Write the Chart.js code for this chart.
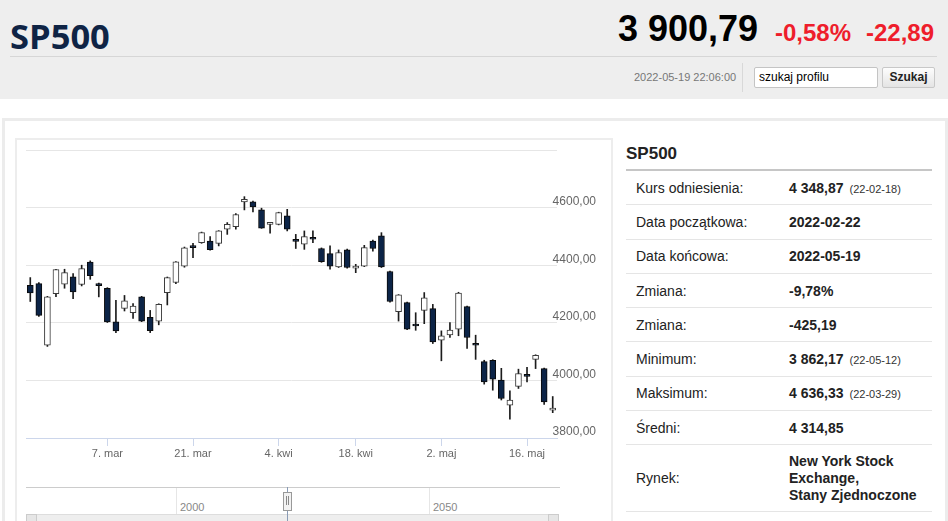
<!DOCTYPE html>
<html lang="pl">
<head>
<meta charset="utf-8">
<title>SP500</title>
<script src="https://cdn.jsdelivr.net/npm/chart.js@4.4.1/dist/chart.umd.min.js"></script>
<style>
  html, body { margin: 0; padding: 0; }
  body { width: 948px; height: 521px; overflow: hidden; position: relative; background: #fff;
         font-family: "Liberation Sans", Arial, sans-serif; color: #222; }
  .abs { position: absolute; white-space: nowrap; line-height: 1; }
  #top { position: absolute; left: 0; top: 0; width: 948px; height: 99px; background: #eeeeee; }
  #panel { position: absolute; left: 2px; top: 118px; width: 940px; height: 420px;
           border-top: 3px solid #ececec; border-left: 3px solid #ececec; border-right: 3px solid #ececec; }
  #chartBox { position: absolute; left: 15px; top: 138px; width: 594px; height: 400px;
              border-top: 2px solid #ededed; border-left: 2px solid #ededed; border-right: 2px solid #ededed; }
  #priceChart { position: absolute; left: 16px; top: 140px; }
  .row { position: absolute; left: 626px; width: 306px; border-bottom: 1px solid #e5e5e5; }
  .row .l { position: absolute; left: 10px; font-size: 14px; color: #222; }
  .row .v { position: absolute; left: 163px; font-size: 14px; font-weight: bold; color: #222; }
  .row .v small { font-size: 11px; font-weight: normal; color: #333; margin-left: 6px; }
</style>
</head>
<body>
<div id="top"></div>
<div class="abs" style="left:10px; top:12px; font: 700 34.5px 'Open Sans', sans-serif; color:#0f2445;">SP500</div>
<div class="abs" style="left:618px; top:11px; font-weight:bold; font-size:36px; color:#000;">3 900,79</div>
<div class="abs" style="left:775px; top:21px; font-weight:bold; font-size:24px; color:#ee1d2b;">-0,58%</div>
<div class="abs" style="left:866px; top:21px; font-weight:bold; font-size:24px; color:#ee1d2b;">-22,89</div>
<div class="abs" style="left:10px; top:56px; width:927px; height:1px; background:#d6d6d6;"></div>
<div class="abs" style="left:634px; top:72px; font-size:11px; color:#777;">2022-05-19 22:06:00</div>
<div class="abs" style="left:742px; top:63px; width:1px; height:29px; background:#d8d8d8;"></div>
<div class="abs" style="left:754px; top:67px; width:118px; height:19px; background:#fff; border:1px solid #c4c4c4; border-radius:2px; padding-left:4px; font-size:12px; line-height:19px; color:#000;">szukaj profilu</div>
<div class="abs" style="left:882px; top:67px; width:51px; height:19px; border:1px solid #c8c8c8; border-radius:2px; background:linear-gradient(#fdfdfd,#e4e4e4); font-size:12px; font-weight:bold; line-height:19px; text-align:center; color:#222;">Szukaj</div>

<div id="panel"></div>
<div id="chartBox"></div>
<canvas id="priceChart" width="594" height="331" style="width:594px; height:331px;"></canvas>

<!-- navigator under the chart -->
<div class="abs" style="left:26px; top:487px; width:534px; height:1px; background:#cccccc;"></div>
<div class="abs" style="left:176px; top:488px; width:1px; height:26px; background:#e6e6e6;"></div>
<div class="abs" style="left:429px; top:488px; width:1px; height:26px; background:#e6e6e6;"></div>
<div class="abs" style="left:180px; top:502px; font-size:11px; color:#888;">2000</div>
<div class="abs" style="left:433px; top:502px; font-size:11px; color:#888;">2050</div>
<div class="abs" style="left:26px; top:514px; width:531px; height:7px; background:#eeeeee; border-top:1px solid #dddddd;"></div>
<div class="abs" style="left:26px; top:514px; width:9px; height:7px; border:1px solid #cccccc; background:#e6e6e6;"></div>
<div class="abs" style="left:548px; top:514px; width:9px; height:7px; border:1px solid #cccccc; background:#e6e6e6;"></div>
<div class="abs" style="left:287px; top:487px; width:1px; height:34px; background:#8a9bb5;"></div>
<div class="abs" style="left:283px; top:492px; width:7px; height:17px; background:#f2f2f2; border:1px solid #999;"></div>
<div class="abs" style="left:286px; top:496px; width:1px; height:9px; background:#888;"></div>
<div class="abs" style="left:288px; top:496px; width:1px; height:9px; background:#888;"></div>

<!-- summary table -->
<div class="abs" style="left:626px; top:145px; font-size:17px; font-weight:bold; color:#222;">SP500</div>
<div class="abs" style="left:626px; top:169px; width:306px; height:2px; background:#c6c6c6;"></div>
<div id="table"></div>

<script>
// SP500 daily candles, 2022-02-22 .. 2022-05-19
const dates = [
    '2022-02-22', '2022-02-23', '2022-02-24', '2022-02-25', '2022-02-28',
    '2022-03-01', '2022-03-02', '2022-03-03', '2022-03-04', '2022-03-07',
    '2022-03-08', '2022-03-09', '2022-03-10', '2022-03-11', '2022-03-14',
    '2022-03-15', '2022-03-16', '2022-03-17', '2022-03-18', '2022-03-21',
    '2022-03-22', '2022-03-23', '2022-03-24', '2022-03-25', '2022-03-28',
    '2022-03-29', '2022-03-30', '2022-03-31', '2022-04-01', '2022-04-04',
    '2022-04-05', '2022-04-06', '2022-04-07', '2022-04-08', '2022-04-11',
    '2022-04-12', '2022-04-13', '2022-04-14', '2022-04-18', '2022-04-19',
    '2022-04-20', '2022-04-21', '2022-04-22', '2022-04-25', '2022-04-26',
    '2022-04-27', '2022-04-28', '2022-04-29', '2022-05-02', '2022-05-03',
    '2022-05-04', '2022-05-05', '2022-05-06', '2022-05-09', '2022-05-10',
    '2022-05-11', '2022-05-12', '2022-05-13', '2022-05-16', '2022-05-17',
    '2022-05-18', '2022-05-19'
];
const opens = [
    4330, 4336, 4122, 4301, 4334, 4360, 4333, 4411, 4336, 4320,
    4203, 4250, 4235, 4290, 4219, 4206, 4305, 4340, 4397, 4464,
    4478, 4484, 4476, 4525, 4534, 4620, 4620, 4592, 4542, 4542,
    4571, 4487, 4473, 4495, 4458, 4440, 4394, 4453, 4390, 4397,
    4484, 4502, 4378, 4239, 4270, 4193, 4243, 4249, 4140, 4158,
    4178, 4256, 4126, 4065, 4070, 4001, 3914, 3979, 4018, 4073,
    4041, 3897
];
const highs = [
    4357, 4340, 4292, 4386, 4386, 4371, 4400, 4415, 4338, 4322,
    4278, 4295, 4267, 4292, 4243, 4266, 4359, 4413, 4463, 4476,
    4515, 4499, 4520, 4548, 4579, 4638, 4623, 4598, 4547, 4584,
    4594, 4507, 4519, 4519, 4460, 4467, 4453, 4456, 4403, 4469,
    4487, 4513, 4380, 4298, 4272, 4235, 4305, 4264, 4172, 4201,
    4306, 4258, 4157, 4070, 4072, 4042, 3964, 4039, 4045, 4089,
    4043, 3944
];
const lows = [
    4274, 4222, 4118, 4291, 4320, 4284, 4328, 4351, 4290, 4201,
    4166, 4241, 4215, 4204, 4166, 4193, 4262, 4336, 4393, 4426,
    4476, 4452, 4467, 4507, 4525, 4592, 4585, 4528, 4511, 4540,
    4519, 4458, 4455, 4478, 4410, 4386, 4392, 4390, 4374, 4395,
    4449, 4392, 4272, 4206, 4176, 4174, 4197, 4128, 4068, 4149,
    4155, 4111, 4073, 3987, 3966, 3932, 3865, 3972, 3995, 4041,
    3917, 3888
];
const closes = [
    4304, 4226, 4290, 4385, 4374, 4307, 4388, 4364, 4329, 4203,
    4172, 4276, 4258, 4206, 4173, 4264, 4357, 4412, 4460, 4461,
    4513, 4454, 4519, 4542, 4576, 4629, 4602, 4529, 4545, 4583,
    4525, 4483, 4499, 4490, 4412, 4397, 4444, 4392, 4393, 4461,
    4458, 4394, 4274, 4297, 4178, 4189, 4287, 4134, 4155, 4175,
    4303, 4149, 4122, 3995, 4004, 3937, 3932, 4024, 4014, 4087,
    3925, 3903
];

// axis ticks
const xTickDates = ['2022-03-07', '2022-03-21', '2022-04-04', '2022-04-18', '2022-05-02', '2022-05-16'];
const xTickLabels = ['7. mar', '21. mar', '4. kwi', '18. kwi', '2. maj', '16. maj'];
const yTicks = [3800, 4000, 4200, 4400, 4600, 4800];
const yTickLabels = ['3800,00', '4000,00', '4200,00', '4400,00', '4600,00', ''];

// summary table
const infoLabels = ['Kurs odniesienia:', 'Data początkowa:', 'Data końcowa:', 'Zmiana:', 'Zmiana:',
    'Minimum:', 'Maksimum:', 'Średni:', 'Rynek:'];
const infoValues = ['4 348,87', '2022-02-22', '2022-05-19', '-9,78%', '-425,19',
    '3 862,17', '4 636,33', '4 314,85', 'New York Stock<br>Exchange,<br>Stany Zjednoczone'];
const infoNotes = ['(22-02-18)', '', '', '', '', '(22-05-12)', '(22-03-29)', '', ''];

let rowsHtml = '';
let rowTop = 171;
infoLabels.forEach((lab, i) => {
    const last = i === infoLabels.length - 1;
    const h = last ? 66 : 33.3;
    const lh = last ? 17 : 14;
    const vTop = last ? 8 : (h - 14) / 2;
    rowsHtml += '<div class="row" style="top:' + rowTop + 'px; height:' + h + 'px;">' +
        '<div class="l" style="top:' + ((h - 14) / 2) + 'px; line-height:14px;">' + lab + '</div>' +
        '<div class="v" style="top:' + vTop + 'px; line-height:' + lh + 'px;">' + infoValues[i] +
        (infoNotes[i] ? '<small>' + infoNotes[i] + '</small>' : '') + '</div></div>';
    rowTop += h + 1;
});
document.getElementById('table').innerHTML = rowsHtml;

//Candle colours
const downFill = '#0c2447';
const upFill = '#ffffff';
const isDown = closes.map((c, i) => c < opens[i]);

const candleData = {
    labels: dates,
    datasets: [{
        label: 'korpus',
        data: opens.map((o, i) => [o, closes[i]]),
        backgroundColor: isDown.map(d => d ? downFill : upFill),
        borderColor: isDown.map(d => d ? '#0a0a0a' : '#3a3a3a'),
        borderWidth: 1,
        borderSkipped: false,
        barThickness: 6,
        minBarLength: 2,
        grouped: false,
        order: 1
    }, {
        label: 'cień',
        data: lows.map((l, i) => [l, highs[i]]),
        backgroundColor: '#1c1c1c',
        borderWidth: 0,
        barThickness: 1,
        grouped: false,
        order: 2
    }]
};

const candleConfig = {
    type: 'bar',
    data: candleData,
    options: {
        responsive: false,
        animation: false,
        layout: { padding: { left: 10, top: 10, right: 0, bottom: 0 } },
        plugins: {
            legend: { display: false },
            tooltip: { enabled: false }
        },
        scales: {
            x: {
                offset: true,
                grid: {
                    offset: false,
                    drawOnChartArea: false,
                    drawTicks: true,
                    tickLength: 8,
                    color: '#ccd6eb'
                },
                border: { display: true, color: '#ccd6eb' },
                afterBuildTicks: (scale) => {
                    scale.ticks = xTickDates.map(d => ({ value: dates.indexOf(d) }));
                },
                afterFit: (scale) => { scale.height = 33; },
                ticks: {
                    autoSkip: false,
                    maxRotation: 0,
                    padding: 1,
                    color: '#666',
                    font: { family: 'Liberation Sans', size: 11 },
                    callback: (value, index) => xTickLabels[index]
                }
            },
            y: {
                position: 'right',
                min: 3800,
                max: 4800,
                grid: { color: '#e6e6e6', drawTicks: false },
                border: { display: false },
                afterBuildTicks: (scale) => {
                    scale.ticks = yTicks.map(v => ({ value: v }));
                },
                afterFit: (scale) => {
                    scale.width = 53;
                    scale.paddingTop = 0;
                    scale.paddingBottom = 0;
                },
                ticks: {
                    mirror: true,        // right-aligned, not clipped to the axis box
                    crossAlign: 'near',
                    padding: 39,
                    labelOffset: -6,
                    color: '#666',
                    font: { family: 'Liberation Sans', size: 12 },
                    callback: (value, index) => yTickLabels[index]
                }
            }
        }
    }
};

const priceChart = new Chart(
    document.getElementById('priceChart'),
    candleConfig
);
</script>
</body>
</html>
